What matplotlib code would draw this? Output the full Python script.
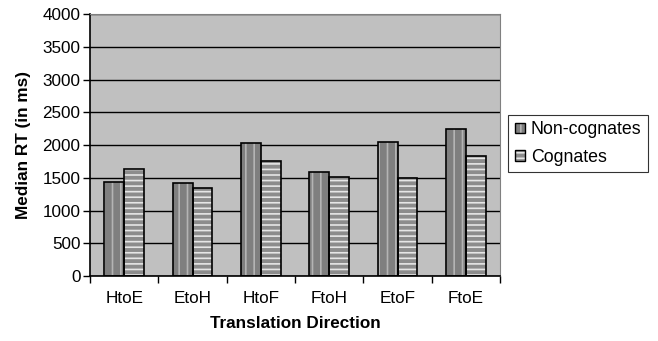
import matplotlib.pyplot as plt
import numpy as np
from matplotlib.patches import Patch

plt.rcParams["font.family"] = ["Liberation Sans", "DejaVu Sans"]
plt.rcParams["hatch.linewidth"] = 1.2

directions = ["HtoE", "EtoH", "HtoF", "FtoH", "EtoF", "FtoE"]
non_cognates = [1440, 1420, 2030, 1590, 2050, 2240]
cognates = [1630, 1350, 1760, 1520, 1500, 1840]

NON_STYLE = dict(face="#7f7f7f", stripe="#b4b4b4", hatch="||")
COG_STYLE = dict(face="#8c8c8c", stripe="#e6e6e6", hatch="---")


def hatched_bars(ax, x, heights, face, stripe, hatch, width):
    # hatch colour follows the edge colour, so draw the stripes first
    # and the black outline on top as a separate unfilled bar
    ax.bar(x, heights, width, color=face, edgecolor=stripe, hatch=hatch,
           linewidth=0, zorder=2)
    ax.bar(x, heights, width, fill=False, edgecolor="black", linewidth=1.2,
           zorder=3)


def legend_handle(face, stripe, hatch):
    return (Patch(facecolor=face, edgecolor=stripe, hatch=hatch, linewidth=0),
            Patch(fill=False, edgecolor="black", linewidth=1.0))


fig = plt.figure(figsize=(6.58, 3.41), dpi=100)
ax = fig.add_axes([0.137, 0.19, 0.623, 0.769])
ax.set_facecolor("#c0c0c0")

x = np.arange(len(directions))
w = 0.29
hatched_bars(ax, x - w / 2, non_cognates, width=w, **NON_STYLE)
hatched_bars(ax, x + w / 2, cognates, width=w, **COG_STYLE)

ax.set_ylim(0, 4000)
ax.set_xlim(-0.5, len(directions) - 0.5)
ax.set_yticks(range(0, 4001, 500))
ax.yaxis.grid(True, color="black", linewidth=1.0)
ax.set_axisbelow(True)

ax.set_xticks(x)
ax.set_xticklabels(directions)
ax.set_xticks(np.arange(-0.5, len(directions)), minor=True)
ax.tick_params(axis="x", which="major", length=0, pad=11, labelsize=12.3)
ax.tick_params(axis="x", which="minor", length=5, width=1)
ax.tick_params(axis="y", length=5, width=1, labelsize=12.3, pad=2)

for side in ["top", "right"]:
    ax.spines[side].set_color("#808080")
for side in ["left", "bottom"]:
    ax.spines[side].set_linewidth(1.2)

ax.set_xlabel("Translation Direction", fontweight="bold", fontsize=12.3,
              labelpad=7)
ax.set_ylabel("Median RT (in ms)", fontweight="bold", fontsize=12.3,
              labelpad=8)

leg = fig.legend([legend_handle(**NON_STYLE), legend_handle(**COG_STYLE)],
                 ["Non-cognates", "Cognates"],
                 loc="upper left", bbox_to_anchor=(0.7725, 0.663),
                 fontsize=12.8, frameon=True, fancybox=False,
                 handlelength=0.56, handleheight=0.56, handletextpad=0.34,
                 borderpad=0.36, labelspacing=0.6, borderaxespad=0)
leg.get_frame().set_edgecolor("black")
leg.get_frame().set_linewidth(0.8)

fig.savefig("out.png", dpi=100)
